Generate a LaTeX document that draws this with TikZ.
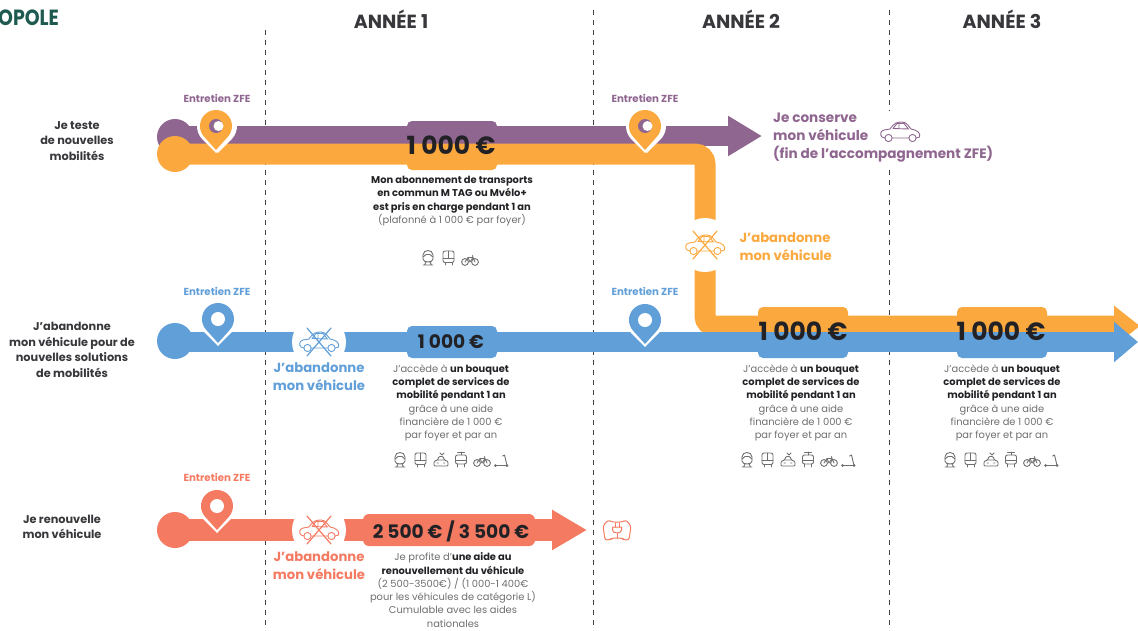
\documentclass[tikz,border=0pt]{standalone}
\usepackage{fontspec}
\setmainfont{Poppins}
\usetikzlibrary{arrows.meta}
\definecolor{zfepurple}{HTML}{8F6690}
\definecolor{zfeorange}{HTML}{FBA93E}
\definecolor{zfeblue}{HTML}{619FD8}
\definecolor{zfered}{HTML}{F47A62}
\definecolor{zfegreen}{HTML}{1F5A50}
\definecolor{zfeink}{HTML}{222226}
\definecolor{zfegrey}{HTML}{6E6E70}
\tikzset{
  yearline/.style={draw=zfeink!85,line width=1pt,dash pattern=on 5pt off 5pt},
  yeartitle/.style={font=\fontsize{19}{22}\selectfont\bfseries,text=zfeink!90},
  rowtitle/.style={font=\fontsize{11.3}{15.6}\selectfont\bfseries,text=zfeink!90,align=center},
  bodytext/.style={font=\fontsize{9.9}{13.25}\selectfont,text=zfegrey,align=center},
  pintext/.style={font=\fontsize{10.2}{12}\selectfont\bfseries},
  actiontext/.style={font=\fontsize{13.2}{18}\selectfont\bfseries,align=center},
  bigsum/.style={font=\fontsize{25}{27}\selectfont\bfseries,text=zfeink},
  midsum/.style={font=\fontsize{18.6}{20}\selectfont\bfseries,text=zfeink},
  startdot/.style={circle,minimum size=36pt,inner sep=0pt,fill=#1},
  gapdot/.style={circle,minimum size=54pt,inner sep=0pt,fill=white},
  band/.style={line width=#1},
  iconline/.style={line width=.9pt,line cap=round,line join=round},
  pics/zfepin/.style={code={
    \fill[white] (0,27) -- (42:19) arc[start angle=42,end angle=-222,radius=19] -- cycle;
    \fill[#1] (0,24) -- (42:16) arc[start angle=42,end angle=-222,radius=16] -- cycle;
  }},
  pics/caricon/.style={code={
    \draw[iconline] (-15,6) -- (-18,5) .. controls (-20,3) and (-20,-1) .. (-16,-2) -- (-10,-3)
      .. controls (-6,-9) and (-3,-10) .. (2,-10) .. controls (7,-10) and (9,-5) .. (11,-3)
      .. controls (17,-2) and (21,1) .. (19.5,5) -- (16,6) (9,6) -- (-8,6);
    \draw[iconline] (-11.5,6) circle[radius=3.6] (12.5,6) circle[radius=3.6];
    \draw[iconline] (-7,-3.5) -- (9,-3) (-1,-9.5) -- (-1,-3.5) (-7,-3.5) -- (-3,-8.5) -- (4,-8.5) -- (8,-3.5);
  }},
  pics/crossedcar/.style={code={
    \pic {caricon};
    \draw[iconline,line width=1.2pt] (-12,-14) -- (12,14) (12,-14) -- (-12,14);
  }},
  pics/trainicon/.style={code={
    \draw[iconline] (-5,-3) .. controls (-5,-9) and (5,-9) .. (5,-3) -- (5,1)
      .. controls (5,5) and (-5,5) .. (-5,1) -- cycle;
    \draw[iconline] (-5,-1) -- (-2,-3.5) -- (2,-3.5) -- (5,-1) (-5,7) -- (5,7) (-3.5,7) -- (-2,4) (3.5,7) -- (2,4);
  }},
  pics/busicon/.style={code={
    \draw[iconline,rounded corners=2pt] (-5.5,-7) rectangle (5.5,4.5);
    \draw[iconline] (-5.5,0) -- (5.5,0) (0,-7) -- (0,0) (-3.5,4.5) -- (-3.5,7) (3.5,4.5) -- (3.5,7);
  }},
  pics/tramicon/.style={code={
    \draw[iconline,rounded corners=2pt] (-5.5,-5) rectangle (5.5,4);
    \draw[iconline] (-5.5,0) -- (5.5,0) (-3.5,-8) -- (3.5,-8) (0,-8) -- (0,-5) (-3.5,4) -- (-3.5,7) (3.5,4) -- (3.5,7);
  }},
  pics/bikeicon/.style={code={
    \draw[iconline] (-5,2) circle[radius=3.4] (5,2) circle[radius=3.4];
    \draw[iconline] (-5,2) -- (-2,-2.5) -- (3,-2.5) -- (5,2) (-2,-2.5) -- (0,2) -- (3,-2.5) (3,-2.5) -- (2.5,-4.5);
  }},
  pics/sharedcar/.style={code={
    \draw[iconline,rounded corners=1pt] (-7,6) -- (-7,1.5) -- (-3.5,0) -- (-2,-3.5) -- (2,-3.5) -- (3.5,0) -- (7,1.5) -- (7,6) -- cycle;
    \draw[iconline] (-3.5,0) -- (3.5,0) (-4,3) -- (-2.5,3) (2.5,3) -- (4,3) (-1,-7) -- (1,-5) -- (3,-7);
  }},
  pics/scootericon/.style={code={
    \draw[iconline] (-7,4.5) -- (5,4.5) -- (2.5,-6) -- (0.5,-5);
    \fill (-6.5,4.5) circle[radius=1.5] (5,4.5) circle[radius=1.5];
  }},
  pics/plugicon/.style={code={
    \draw[iconline,line width=1pt,rounded corners=2.5pt] (-14,-4) -- (-9,-10) -- (-5,-8) -- (5,-8) -- (9,-10) -- (14,-4)
      -- (12,10) -- (7,10) -- (5,8) -- (-5,8) -- (-7,10) -- (-12,10) -- cycle;
    \draw[iconline,line width=1pt,fill=white] (-4.5,-3) -- (4.5,-3) -- (4.5,0) .. controls (4.5,4) and (-4.5,4) .. (-4.5,0) -- cycle;
    \draw[iconline,line width=1pt] (-2,-3) -- (-2,-7) (2,-3) -- (2,-7) (0,3) -- (0,8);
  }}
}
\newcommand{\sumbox}[6]{% x1 x2 top split bottom, colours in #6
  \fill[#6] (#1,#4) [rounded corners=5pt] -- (#1,#3) -- (#2,#3) -- (#2,#4) [sharp corners] -- cycle;
}
\newcommand{\iconrow}[1]{%
  \begin{scope}[shift={(#1,460)},zfegrey]
    \pic at (0,0) {trainicon};
    \pic at (20.5,0) {busicon};
    \pic at (41,0) {sharedcar};
    \pic at (61,0) {tramicon};
    \pic at (82,1) {bikeicon};
    \pic at (102,1) {scootericon};
  \end{scope}
}
\newcommand{\bouquettext}{J’accède à \textbf{\textcolor{zfeink}{un bouquet}}\\
  \textbf{\textcolor{zfeink}{complet de services de}}\\
  \textbf{\textcolor{zfeink}{mobilité pendant 1 an}}\\
  grâce à une aide\\ financière de 1 000 €\\ par foyer et par an}
\begin{document}
\begin{tikzpicture}[x=1pt,y=-1pt]
\useasboundingbox (0,0) rectangle (1138,630);
% year lines
\coordinate (lineAtop) at (265,30);
\coordinate (lineAend) at (265,630);
\coordinate (lineBtop) at (593,10);
\coordinate (lineBend) at (593,630);
\coordinate (lineCtop) at (889,10);
\coordinate (lineCend) at (889,630);
\draw[yearline] (lineAtop) -- (lineAend);
\draw[yearline] (lineBtop) -- (lineBend);
\draw[yearline] (lineCtop) -- (lineCend);
\node[font=\fontsize{22}{24}\selectfont\bfseries,text=zfegreen,anchor=west,xscale=.86,inner sep=0pt] (logo) at (-2,18) {OPOLE};
\node[yeartitle] (year1) at (391,19) {ANNÉE 1};
\node[yeartitle] (year2) at (741,19) {ANNÉE 2};
\node[yeartitle] (year3) at (1002,19) {ANNÉE 3};
% row titles
\node[rowtitle] (rowA) at (77,141) {Je teste\\de nouvelles\\mobilités};
\node[rowtitle] (rowB) at (72,350) {J’abandonne\\mon véhicule pour de\\nouvelles solutions\\de mobilités};
\node[rowtitle] (rowC) at (62,527) {Je renouvelle\\mon véhicule};
% purple row
\node[startdot=zfepurple] (startP) at (175,137) {};
\coordinate (tipP) at (762,136);
\draw[band=20pt,zfepurple,-{Triangle[length=34pt,width=38pt]}] (startP.center) ++(0,-1) -- (tipP);
\node[pintext,text=zfepurple] (pinP1) at (217,98) {Entretien ZFE};
\node[pintext,text=zfepurple] (pinP2) at (645,98) {Entretien ZFE};
\node[actiontext,font=\fontsize{13.6}{18}\selectfont\bfseries,align=left,anchor=west,text=zfepurple,fill=white,inner sep=2pt] (keepcar) at (771,138) {Je conserve\\mon véhicule\\(fin de l’accompagnement ZFE)};
\pic[zfepurple] at (900,132) {caricon};
% orange row
\sumbox{407}{497}{121}{144}{170}{zfepurple}
\node[startdot=zfeorange] (startO) at (175,154) {};
\coordinate (elbowO1) at (705,154);
\coordinate (elbowO2) at (705,326);
\coordinate (tipO) at (1140,326);
\draw[band=21pt,zfeorange,rounded corners=10pt,-{Triangle[length=26pt,width=39pt]}] (startO.center) -- (elbowO1) -- (elbowO2) -- (tipO);
\fill[zfeorange,rounded corners=5pt] (407,150) rectangle (497,170);
\node[gapdot] (gapO) at (705,245) {};
\pic[zfeorange] at (705,245) {crossedcar};
\node[actiontext,anchor=west,align=left,text=zfeorange] (leaveO) at (736,247) {J’abandonne\\mon véhicule};
\foreach \pinx in {216,645} {
  \pic at (\pinx+2,126) {zfepin=zfepurple};
  \pic at (\pinx,126) {zfepin=zfeorange};
  \fill[zfepurple] (\pinx,126) circle[radius=7];
  \fill[white] (\pinx+2.5,126) circle[radius=5];
}
\node[bigsum] (sumA) at (451,145) {1 000 €};
\node[bodytext] (textA) at (452,201) {\textbf{\textcolor{zfeink}{Mon abonnement de transports}}\\
  \textbf{\textcolor{zfeink}{en commun M TAG ou Mvélo+}}\\
  \textbf{\textcolor{zfeink}{est pris en charge pendant 1 an}}\\
  (plafonné à 1 000 € par foyer)};
\begin{scope}[shift={(428,258)},zfegrey]
  \pic at (0,0) {trainicon};
  \pic at (20.5,0) {busicon};
  \pic at (42,2) {bikeicon};
\end{scope}
% blue row
\sumbox{758}{848}{307}{334}{358}{zfeorange}
\sumbox{957}{1047}{307}{334}{358}{zfeorange}
\node[startdot=zfeblue] (startB) at (175,341) {};
\coordinate (tipB) at (1138,342);
\draw[band=20pt,zfeblue,-{Triangle[length=24pt,width=39pt]}] (startB.center) ++(0,1) -- (tipB);
\fill[zfeblue,rounded corners=5pt] (407,326) rectangle (497,358);
\fill[zfeblue,rounded corners=5pt] (758,340) rectangle (848,358);
\fill[zfeblue,rounded corners=5pt] (957,340) rectangle (1047,358);
\node[gapdot] (gapB) at (319,342) {};
\pic[zfeblue] at (319,342) {crossedcar};
\node[actiontext,text=zfeblue] (leaveB) at (319,377) {J’abandonne\\mon véhicule};
\pic at (218,319) {zfepin=zfeblue};
\pic at (645,320) {zfepin=zfeblue};
\fill[white] (218,319) circle[radius=7];
\fill[white] (645,320) circle[radius=7];
\node[pintext,text=zfeblue] (pinB1) at (217,291) {Entretien ZFE};
\node[pintext,text=zfeblue] (pinB2) at (645,291) {Entretien ZFE};
\node[midsum] (sumB1) at (451,342) {1 000 €};
\node[bigsum] (sumB2) at (803,331) {1 000 €};
\node[bigsum] (sumB3) at (1001,331) {1 000 €};
\node[bodytext] (textB1) at (451,403) {\bouquettext};
\node[bodytext] (textB2) at (801,403) {\bouquettext};
\node[bodytext] (textB3) at (1002,403) {\bouquettext};
\iconrow{400}
\iconrow{747}
\iconrow{950}
% red row
\node[startdot=zfered] (startR) at (175,530) {};
\coordinate (tipR) at (587,530);
\draw[band=22pt,zfered,-{Triangle[length=35pt,width=38pt]}] (startR.center) -- (tipR);
\fill[zfered,rounded corners=6pt] (363,514) rectangle (535,546);
\node[gapdot] (gapR) at (319,530) {};
\pic[zfered] at (319,530) {crossedcar};
\node[actiontext,text=zfered] (leaveR) at (319,566) {J’abandonne\\mon véhicule};
\pic at (217,506) {zfepin=zfered};
\fill[white] (217,506) circle[radius=7];
\node[pintext,text=zfered] (pinR) at (217,477) {Entretien ZFE};
\node[midsum] (sumR) at (451,531) {2 500 € / 3 500 €};
\node[bodytext] (textR) at (453,590) {Je profite d’\textbf{\textcolor{zfeink}{une aide au}}\\
  \textbf{\textcolor{zfeink}{renouvellement du véhicule}}\\
  (2 500-3500€) / (1 000-1 400€\\
  pour les véhicules de catégorie L)\\
  Cumulable avec les aides\\ nationales};
\pic[zfered] at (617,530) {plugicon};
\end{tikzpicture}
\end{document}
